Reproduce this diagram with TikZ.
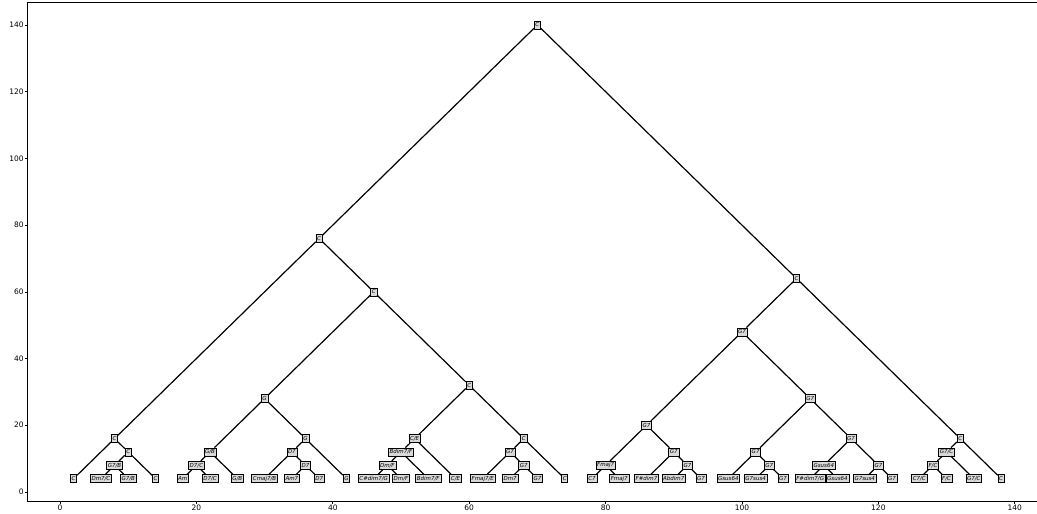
\documentclass[tikz,border=0pt]{standalone}
\usepackage{fontspec}
\setmainfont{DejaVu Sans}
\begin{document}
\begin{tikzpicture}[x=6.82pt,y=3.336pt,
  chord/.style={draw=black,fill=gray!30,line width=0.6pt,inner xsep=1.2pt,inner ysep=0pt,minimum height=8pt,font=\fontsize{5.5}{6}\selectfont\itshape},
  branch/.style={line width=1.2pt},
  ticklab/.style={font=\fontsize{7.5}{8}\selectfont,inner sep=1pt}]
\useasboundingbox (-8.798,-6.595) rectangle (143.26,147.48);
\draw[line width=0.7pt] (143.26,146.8) -- (-4.8,146.8) -- (-4.8,-2.8) -- (143.26,-2.8);
\foreach \x in {0,20,...,140}
  \draw[line width=0.6pt] (\x,-2.8) -- (\x,-3.6) node[below,ticklab] {\x};
\foreach \y in {0,20,...,140}
  \draw[line width=0.6pt] (-4.8,\y) -- (-5.15,\y) node[left,ticklab] {\y};
% leaves
\foreach \lab [count=\i from 0] in {C,Dm7/C,G7/B,C,Am,D7/C,G/B,Cmaj7/B,Am7,D7,G,C\#dim7/G,Dm/F,Bdim7/F,C/E,Fmaj7/E,Dm7,G7,C,C7,Fmaj7,F\#dim7,Abdim7,G7,Gsus64,G7sus4,G7,F\#dim7/G,Gsus64,G7sus4,G7,C7/C,F/C,G7/C,C}
  \node[chord] (l\i) at ({2+4*\i},4) {\lab};
% inner nodes
\node[chord] (root) at (70,140) {C};
\node[chord] (n2) at (38,76) {C};
\node[chord] (n3) at (8,16) {C};
\node[chord] (n4) at (10,12) {C};
\node[chord] (n5) at (8,8) {G7/B};
\node[chord] (n6) at (46,60) {C};
\node[chord] (n7) at (30,28) {G};
\node[chord] (n8) at (22,12) {G/B};
\node[chord] (n9) at (20,8) {D7/C};
\node[chord] (n10) at (36,16) {G};
\node[chord] (n11) at (34,12) {D7};
\node[chord] (n12) at (36,8) {D7};
\node[chord] (n13) at (60,32) {C};
\node[chord] (n14) at (52,16) {C/E};
\node[chord] (n15) at (50,12) {Bdim7/F};
\node[chord] (n16) at (48,8) {Dm/F};
\node[chord] (n17) at (68,16) {C};
\node[chord] (n18) at (66,12) {G7};
\node[chord] (n19) at (68,8) {G7};
\node[chord] (n20) at (108,64) {C};
\node[chord] (n21) at (100,48) {G7};
\node[chord] (n22) at (86,20) {G7};
\node[chord] (n23) at (80,8) {Fmaj7};
\node[chord] (n24) at (90,12) {G7};
\node[chord] (n25) at (92,8) {G7};
\node[chord] (n26) at (110,28) {G7};
\node[chord] (n27) at (102,12) {G7};
\node[chord] (n28) at (104,8) {G7};
\node[chord] (n29) at (116,16) {G7};
\node[chord] (n30) at (112,8) {Gsus64};
\node[chord] (n31) at (120,8) {G7};
\node[chord] (n32) at (132,16) {C};
\node[chord] (n33) at (130,12) {G7/C};
\node[chord] (n34) at (128,8) {F/C};
% branches
\foreach \a/\b in {root/n2,root/n20,n2/n3,n2/n6,n3/l0,n3/n4,n4/n5,n4/l3,n5/l1,n5/l2,
  n6/n7,n6/n13,n7/n8,n7/n10,n8/n9,n8/l6,n9/l4,n9/l5,n10/n11,n10/l10,n11/l7,n11/n12,n12/l8,n12/l9,
  n13/n14,n13/n17,n14/n15,n14/l14,n15/n16,n15/l13,n16/l11,n16/l12,n17/n18,n17/l18,n18/l15,n18/n19,n19/l16,n19/l17,
  n20/n21,n20/n32,n21/n22,n21/n26,n22/n23,n22/n24,n23/l19,n23/l20,n24/l21,n24/n25,n25/l22,n25/l23,
  n26/n27,n26/n29,n27/l24,n27/n28,n28/l25,n28/l26,n29/n30,n29/n31,n30/l27,n30/l28,n31/l29,n31/l30,
  n32/n33,n32/l34,n33/n34,n33/l33,n34/l31,n34/l32}
  \draw[branch] (\a) -- (\b);
\end{tikzpicture}
\end{document}
